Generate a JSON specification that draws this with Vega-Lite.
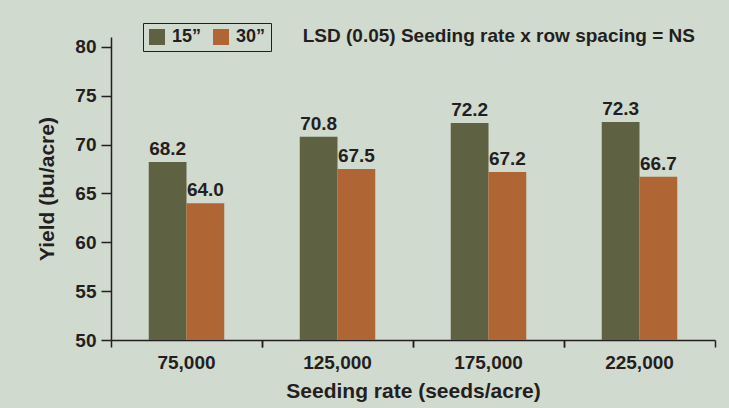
{
  "$schema": "https://vega.github.io/schema/vega-lite/v6.json",
  "width": 604,
  "height": 303,
  "autosize": "none",
  "padding": {"left": 111, "top": 37, "right": 14, "bottom": 68},
  "background": "#d1dace",
  "title": {
    "text": "LSD (0.05) Seeding rate x row spacing = NS",
    "anchor": "end",
    "frame": "group",
    "dx": -20,
    "offset": -23,
    "font": "Liberation Sans",
    "fontSize": 19,
    "fontWeight": "bold",
    "color": "#231f20"
  },
  "data": {
    "values": [
      {"rate": "75,000", "spacing": "15\u201d", "yield": 68.2},
      {"rate": "75,000", "spacing": "30\u201d", "yield": 64.0},
      {"rate": "125,000", "spacing": "15\u201d", "yield": 70.8},
      {"rate": "125,000", "spacing": "30\u201d", "yield": 67.5},
      {"rate": "175,000", "spacing": "15\u201d", "yield": 72.2},
      {"rate": "175,000", "spacing": "30\u201d", "yield": 67.2},
      {"rate": "225,000", "spacing": "15\u201d", "yield": 72.3},
      {"rate": "225,000", "spacing": "30\u201d", "yield": 66.7}
    ]
  },
  "layer": [
    {
      "encoding": {
        "x": {
          "field": "rate",
          "type": "nominal",
          "sort": ["75,000", "125,000", "175,000", "225,000"],
          "scale": {"paddingInner": 0, "paddingOuter": 0},
          "axis": {
            "orient": "bottom",
            "title": "Seeding rate (seeds/acre)",
            "labelAngle": 0,
            "bandPosition": 0,
            "labelOffset": 0,
            "tickSize": 7,
            "labelPadding": 6,
            "titlePadding": 8
          }
        },
        "xOffset": {
          "field": "spacing",
          "type": "nominal",
          "scale": {"paddingInner": 0, "paddingOuter": 1.1}
        },
        "y": {
          "field": "yield",
          "type": "quantitative",
          "scale": {"domain": [50, 81], "nice": false, "zero": false},
          "axis": {
            "title": "Yield (bu/acre)",
            "values": [50, 55, 60, 65, 70, 75, 80],
            "tickSize": 10,
            "labelPadding": 5,
            "titlePadding": 17,
            "grid": false
          }
        }
      },
      "layer": [
        {
          "mark": {"type": "bar", "clip": true},
          "encoding": {
            "y2": {"datum": 50},
            "color": {
              "field": "spacing",
              "type": "nominal",
              "scale": {"domain": ["15\u201d", "30\u201d"], "range": ["#5e6142", "#b06535"]},
              "legend": {
                "orient": "none",
                "legendX": 32,
                "legendY": -14,
                "direction": "horizontal",
                "title": null,
                "symbolType": "square",
                "symbolSize": 256,
                "symbolStrokeWidth": 0,
                "labelFontSize": 18,
                "labelFont": "Liberation Sans",
                "labelFontWeight": "bold",
                "labelColor": "#231f20",
                "labelOffset": 6,
                "columnPadding": 10,
                "padding": 5,
                "strokeColor": "#231f20",
                "fillColor": "#d1dace"
              }
            }
          }
        },
        {
          "mark": {
            "type": "text",
            "baseline": "alphabetic",
            "dy": -7,
            "font": "Liberation Sans",
            "fontSize": 19,
            "fontWeight": "bold",
            "color": "#231f20"
          },
          "encoding": {
            "text": {"field": "yield", "type": "quantitative", "format": ".1f"}
          }
        }
      ]
    },
    {
      "mark": {"type": "tick", "opacity": 0},
      "encoding": {
        "x": {
          "field": "rate",
          "type": "nominal",
          "sort": ["75,000", "125,000", "175,000", "225,000"],
          "scale": {"paddingInner": 0, "paddingOuter": 0},
          "axis": {
            "orient": "bottom",
            "title": null,
            "labels": false,
            "domain": false,
            "bandPosition": 1,
            "tickSize": 7
          }
        },
        "y": {"field": "yield", "type": "quantitative"}
      }
    }
  ],
  "resolve": {"scale": {"x": "independent"}, "axis": {"x": "independent"}},
  "config": {
    "view": {"stroke": null},
    "axis": {
      "domainColor": "#231f20",
      "tickColor": "#231f20",
      "domainWidth": 1.5,
      "tickWidth": 1.5,
      "labelFont": "Liberation Sans",
      "labelFontSize": 19,
      "labelFontWeight": "bold",
      "labelColor": "#231f20",
      "titleFont": "Liberation Sans",
      "titleFontSize": 21,
      "titleFontWeight": "bold",
      "titleColor": "#231f20"
    }
  }
}
